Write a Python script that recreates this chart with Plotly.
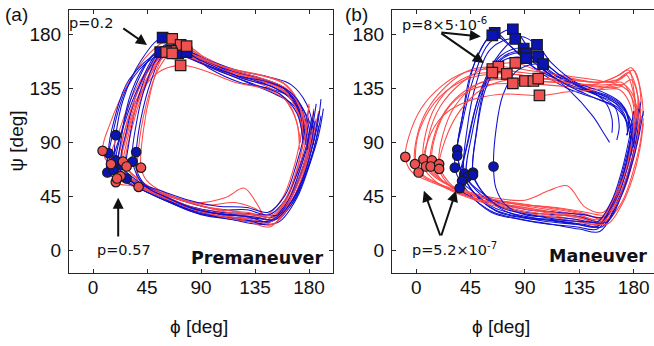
import plotly.graph_objects as go

# ---------------- data (phi, psi) waypoints in degrees ----------------
# Panel (a) Premaneuver
A_BLUE_CURVES = [
    [(186,122),(182,98),(175,70),(164,44),(150,28),(130,31),(105,32),(80,37),(55,46),(35,55),(22,68),(18,82),(19,96),(25,125),(40,158),(58,177),(75,168),(100,155),(130,145),(155,138),(170,126),(178,105),(180,85)],
    [(190,112),(186,92),(178,66),(168,42),(152,26),(135,27),(110,28),(85,33),(60,42),(35,54),(18,66),(13,81),(18,110),(30,142),(56,165),(72,163),(100,152),(128,140),(152,130),(168,120),(178,100),(181,80)],
    [(184,116),(180,92),(172,66),(162,40),(148,24),(130,28),(108,30),(82,35),(58,44),(36,55),(22,66),(19,75),(26,105),(40,140),(55,160),(71,164),(90,156),(118,146),(145,138),(163,128),(174,110),(177,88)],
    [(192,118),(188,96),(180,70),(170,44),(155,24),(138,22),(115,26),(90,30),(64,40),(38,52),(20,60),(12,65),(16,95),(28,135),(50,160),(78,165),(96,152),(122,140),(150,134),(168,126),(180,108),(184,88)],
    [(182,110),(178,88),(170,64),(160,42),(147,30),(128,34),(104,34),(80,40),(56,48),(34,58),(17,67),(24,100),(36,138),(50,163),(64,170),(88,160),(115,150),(142,142),(160,134),(172,115),(176,92)],
    [(188,104),(184,84),(176,60),(165,38),(150,22),(132,24),(110,27),(86,32),(62,42),(44,54),(36,68),(36,82),(40,110),(48,140),(58,162),(72,168),(95,158),(125,143),(150,136),(166,125),(176,106),(179,84)],
    [(180,120),(176,96),(169,70),(160,46),(146,32),(128,36),(104,37),(80,42),(56,50),(38,56),(28,60),(30,90),(38,128),(50,158),(62,172),(82,164),(108,152),(138,144),(158,136),(170,122),(176,100)],
    [(190,126),(187,104),(180,76),(170,48),(155,30),(138,30),(112,30),(88,34),(62,44),(40,56),(24,71),(28,100),(38,135),(52,162),(68,170),(92,160),(120,150),(148,144),(165,138),(178,122),(184,100)],
    [(185,108),(181,86),(173,62),(162,38),(148,25),(130,25),(108,28),(84,32),(60,42),(38,52),(22,62),(24,96),(32,132),(46,158),(60,168),(80,160),(108,148),(135,138),(156,130),(170,114),(175,92)],
    [(188,114),(184,92),(177,66),(166,42),(152,26),(134,28),(112,30),(86,34),(62,44),(42,55),(33,74),(36,105),(44,138),(55,162),(68,168),(90,158),(118,146),(146,140),(164,132),(176,116),(181,96)],
]
A_RED_CURVES = [
    [(180,112),(177,90),(170,64),(160,40),(146,24),(130,28),(108,32),(84,36),(58,46),(35,56),(15,70),(8,83),(14,105),(30,140),(48,165),(66,176),(85,165),(112,152),(140,142),(160,134),(172,118),(176,96)],
    [(184,118),(180,94),(173,68),(162,42),(148,28),(132,30),(110,34),(86,38),(60,47),(36,58),(15,72),(22,100),(36,135),(55,162),(73,171),(92,160),(118,148),(146,140),(163,130),(174,112),(178,90)],
    [(178,106),(174,84),(168,60),(158,38),(145,22),(128,26),(105,30),(82,36),(60,46),(40,58),(25,74),(30,105),(42,138),(60,163),(78,170),(96,158),(122,146),(148,138),(164,128),(172,110),(175,88)],
    [(186,110),(182,88),(175,62),(165,40),(150,26),(135,35),(118,40),(95,38),(70,44),(45,54),(28,70),(32,100),(42,132),(54,156),(65,166),(85,160),(112,150),(138,142),(158,134),(170,118),(175,96)],
    [(182,100),(178,80),(171,58),(160,36),(147,24),(136,40),(126,52),(110,44),(85,40),(60,48),(45,58),(40,69),(42,100),(48,132),(55,155),(61,165),(80,160),(108,148),(136,140),(156,130),(168,112),(173,90)],
    [(176,116),(173,94),(167,68),(158,44),(145,30),(128,32),(106,34),(80,40),(55,48),(32,54),(19,57),(24,90),(36,125),(54,148),(73,154),(92,150),(118,140),(145,134),(162,124),(170,106),(172,84)],
    [(184,104),(180,82),(173,58),(163,36),(150,22),(132,26),(110,28),(86,34),(62,44),(45,50),(38,53),(38,85),(44,120),(54,150),(66,164),(88,158),(115,148),(142,142),(160,132),(171,114),(176,92)],
    [(188,116),(184,94),(177,68),(167,44),(153,26),(136,28),(114,30),(90,34),(64,42),(40,52),(23,62),(28,95),(40,130),(56,158),(70,168),(90,160),(116,150),(144,142),(162,134),(174,116),(179,94)],
    [(180,122),(177,98),(171,72),(162,46),(150,30),(134,30),(112,32),(88,38),(62,46),(38,54),(20,60),(24,90),(34,124),(48,152),(62,166),(82,162),(110,152),(138,146),(158,140),(170,126),(175,104)],
    [(182,96),(178,76),(170,54),(160,34),(148,20),(130,24),(108,28),(84,34),(60,44),(40,54),(26,66),(30,98),(40,130),(52,156),(66,168),(86,162),(112,152),(140,146),(160,138),(172,120),(178,98)],
]
A_BLUE_CIRCLE_PHI = [19, 13, 19, 12, 17, 36, 28, 24, 22, 33]
A_BLUE_CIRCLE_PSI = [96, 81, 75, 65, 67, 82, 60, 71, 62, 74]
A_BLUE_SQUARE_PHI = [58, 56, 71, 78]
A_BLUE_SQUARE_PSI = [177, 165, 164, 165]
A_RED_CIRCLE_PHI = [8, 15, 25, 28, 40, 19, 38, 23, 20]
A_RED_CIRCLE_PSI = [83, 72, 74, 70, 69, 57, 53, 62, 60]
A_RED_SQUARE_PHI = [66, 73, 78, 65, 61, 73, 66]
A_RED_SQUARE_PSI = [176, 171, 170, 166, 165, 154, 164]

# Panel (b) Maneuver
B_BLUE_CURVES = [
    [(182,120),(178,96),(172,70),(164,44),(152,22),(135,24),(112,26),(88,28),(65,34),(48,48),(36,70),(34,84),(40,120),(50,160),(65,181),(80,168),(100,150),(125,135),(150,126),(168,118),(176,100),(178,80)],
    [(186,112),(182,90),(175,64),(166,40),(154,20),(138,22),(115,25),(90,27),(66,33),(46,50),(34,79),(38,110),(46,150),(63,179),(78,170),(98,152),(122,140),(148,130),(166,122),(178,108),(181,88)],
    [(180,104),(176,82),(170,58),(162,36),(150,18),(132,20),(110,22),(86,26),(62,32),(42,50),(32,69),(38,105),(48,145),(60,172),(80,184),(92,170),(110,150),(135,136),(158,128),(172,118),(178,100)],
    [(184,118),(180,94),(173,68),(165,44),(153,24),(136,28),(114,30),(90,32),(66,38),(50,50),(40,64),(42,100),(50,140),(62,168),(82,176),(96,160),(116,145),(140,135),(160,128),(173,118),(178,98)],
    [(178,96),(174,74),(168,52),(160,32),(149,20),(132,22),(110,24),(88,28),(68,36),(54,50),(47,65),(50,100),(57,138),(70,162),(89,168),(104,152),(124,138),(148,130),(164,120),(168,104),(166,92)],
    [(186,124),(182,100),(176,74),(168,48),(156,28),(138,30),(116,32),(92,34),(68,40),(52,50),(42,61),(46,96),(56,135),(72,160),(91,164),(106,150),(126,134),(146,112),(155,98),(160,90)],
    [(182,110),(178,88),(171,62),(162,38),(150,20),(134,22),(112,25),(88,29),(64,36),(46,50),(38,58),(44,95),(54,135),(70,165),(86,178),(100,171),(112,156),(132,140),(154,132),(170,122),(176,104),(174,96)],
    [(184,104),(180,82),(174,58),(165,36),(152,16),(135,18),(112,22),(88,26),(64,32),(46,44),(36,52),(42,88),(52,128),(68,158),(85,166),(101,161),(116,148),(138,136),(156,124),(162,110),(162,98)],
    [(180,116),(176,92),(170,66),(162,42),(150,24),(133,26),(112,28),(90,30),(74,38),(66,52),(64,70),(66,100),(72,130),(84,150),(105,155),(120,145),(140,134),(160,126),(172,114),(175,96)],
    [(188,116),(184,94),(178,70),(170,46),(158,24),(140,24),(118,26),(94,30),(70,36),(54,50),(47,63),(50,98),(58,136),(72,158),(91,160),(108,148),(128,136),(150,126),(166,118),(176,104),(180,86)],
]
B_RED_CURVES = [
    [(184,122),(182,98),(176,72),(166,46),(154,28),(135,32),(112,36),(88,38),(62,42),(38,48),(15,56),(-4,66),(-9,78),(-6,95),(4,118),(20,136),(40,148),(63,151),(88,148),(118,144),(148,140),(166,142),(176,148),(182,136),(184,118)],
    [(186,112),(183,90),(177,66),(168,42),(156,24),(138,28),(114,32),(90,36),(64,40),(40,46),(18,56),(4,64),(-1,72),(0,92),(8,115),(24,136),(44,150),(68,153),(92,150),(120,146),(148,142),(164,140),(174,146),(180,130),(182,112)],
    [(182,118),(179,94),(173,68),(163,42),(151,26),(134,30),(110,34),(86,38),(60,43),(36,50),(16,62),(6,76),(8,98),(16,120),(30,137),(46,146),(63,148),(86,146),(114,142),(142,138),(160,138),(170,140),(178,128),(181,110)],
    [(188,110),(185,88),(179,64),(170,40),(158,26),(140,30),(118,34),(94,38),(68,42),(44,48),(20,55),(2,65),(0,88),(8,112),(24,132),(46,144),(75,147),(98,144),(124,140),(150,136),(168,136),(178,142),(184,126),(186,108)],
    [(184,126),(181,102),(175,76),(166,50),(155,32),(140,36),(125,54),(110,50),(90,42),(64,44),(40,50),(20,58),(8,70),(10,94),(20,120),(38,140),(58,152),(82,156),(100,150),(126,144),(152,140),(168,146),(178,152),(184,140),(186,124)],
    [(180,104),(177,82),(171,58),(161,36),(150,22),(132,26),(108,30),(84,34),(60,40),(38,48),(20,60),(13,75),(16,96),(26,118),(42,132),(60,138),(80,139),(104,138),(130,136),(154,134),(168,134),(176,124),(180,104)],
    [(186,118),(183,96),(177,70),(168,46),(157,30),(140,32),(116,36),(92,38),(66,42),(42,48),(22,58),(12,70),(14,92),(24,116),(42,134),(64,142),(90,141),(112,140),(138,138),(160,136),(172,138),(180,128),(184,110)],
    [(182,112),(178,88),(172,62),(162,40),(151,24),(134,28),(112,32),(88,36),(64,40),(42,46),(26,58),(19,72),(22,96),(32,120),(50,138),(72,144),(97,141),(120,140),(146,138),(164,144),(176,150),(180,134),(182,116)],
    [(188,106),(185,84),(179,60),(170,38),(158,22),(140,26),(118,30),(94,34),(70,38),(46,44),(28,54),(19,68),(24,92),(36,116),(54,134),(76,142),(101,143),(124,142),(150,140),(168,142),(180,150),(186,132),(188,112)],
    [(184,100),(180,80),(174,56),(164,36),(152,22),(134,24),(112,28),(88,32),(62,38),(38,46),(18,56),(6,70),(10,92),(22,112),(42,124),(70,130),(102,129),(126,132),(150,134),(166,138),(176,132),(182,116),(184,100)],
]
B_BLUE_CIRCLE_PHI = [34, 34, 32, 40, 47, 42, 38, 36, 64, 47]
B_BLUE_CIRCLE_PSI = [84, 79, 69, 64, 65, 61, 58, 52, 70, 63]
B_BLUE_SQUARE_PHI = [65, 63, 80, 82, 89, 91, 91, 100, 101, 105]
B_BLUE_SQUARE_PSI = [181, 179, 184, 176, 168, 164, 160, 171, 161, 155]
B_RED_CIRCLE_PHI = [-9, -1, 6, 2, 8, 13, 12, 19, 19]
B_RED_CIRCLE_PSI = [78, 72, 76, 65, 70, 75, 70, 72, 68]
B_RED_SQUARE_PHI = [63, 68, 63, 75, 82, 80, 90, 97, 101, 102]
B_RED_SQUARE_PSI = [151, 153, 148, 147, 156, 139, 141, 141, 143, 129]

TICKS = [0, 45, 90, 135, 180]
TICK_LABELS = ["0", "45", "90", "135", "180"]

# ---------------- styles ----------------
BLUE_LINE = "#1010d0"
RED_LINE = "#ff4848"
BLUE_FILL = "#0a14b4"
RED_FILL = "#f05050"
AXIS_COL = "#262626"
W, H = 654, 346

fig = go.Figure()


def add_curves(curves_blue, curves_red, xa, ya):
    n = max(len(curves_blue), len(curves_red))
    for i in range(n):
        for curves, col in ((curves_red, RED_LINE), (curves_blue, BLUE_LINE)):
            if i < len(curves):
                c = curves[i]
                fig.add_trace(go.Scatter(
                    x=[p[0] for p in c], y=[p[1] for p in c], mode="lines",
                    line=dict(color=col, width=1.05, shape="spline", smoothing=1.0),
                    xaxis=xa, yaxis=ya, showlegend=False, hoverinfo="skip"))


def add_markers(phi, psi, fill, symbol, size, xa, ya):
    fig.add_trace(go.Scatter(
        x=phi, y=psi, mode="markers",
        marker=dict(symbol=symbol, size=size, color=fill,
                    line=dict(color="#1a1a1a", width=1.2)),
        xaxis=xa, yaxis=ya, showlegend=False, hoverinfo="skip"))


add_curves(A_BLUE_CURVES, A_RED_CURVES, "x", "y")
add_markers(A_BLUE_CIRCLE_PHI, A_BLUE_CIRCLE_PSI, BLUE_FILL, "circle", 9.5, "x", "y")
add_markers(A_RED_CIRCLE_PHI, A_RED_CIRCLE_PSI, RED_FILL, "circle", 9.5, "x", "y")
add_markers(A_BLUE_SQUARE_PHI, A_BLUE_SQUARE_PSI, BLUE_FILL, "square", 10.5, "x", "y")
add_markers(A_RED_SQUARE_PHI, A_RED_SQUARE_PSI, RED_FILL, "square", 10.5, "x", "y")

add_curves(B_BLUE_CURVES, B_RED_CURVES, "x2", "y2")
add_markers(B_RED_CIRCLE_PHI, B_RED_CIRCLE_PSI, RED_FILL, "circle", 9.5, "x2", "y2")
add_markers(B_BLUE_CIRCLE_PHI, B_BLUE_CIRCLE_PSI, BLUE_FILL, "circle", 9.5, "x2", "y2")
add_markers(B_RED_SQUARE_PHI, B_RED_SQUARE_PSI, RED_FILL, "square", 10.5, "x2", "y2")
add_markers(B_BLUE_SQUARE_PHI, B_BLUE_SQUARE_PSI, BLUE_FILL, "square", 10.5, "x2", "y2")

tickfont = dict(family="Liberation Sans, Arial, sans-serif", size=19, color="#111")
common_axis = dict(showgrid=False, zeroline=False, showline=True, linecolor=AXIS_COL,
                   linewidth=1, ticks="inside", ticklen=4, tickcolor=AXIS_COL,
                   tickvals=TICKS, ticktext=TICK_LABELS, tickfont=tickfont)

ydom = [1 - 273 / H, 1 - 10 / H]
fig.update_layout(
    width=W, height=H, margin=dict(l=0, r=0, t=0, b=0),
    paper_bgcolor="white", plot_bgcolor="white",
    xaxis=dict(domain=[69 / W, 333 / W], range=[-20, 200], anchor="y",
               mirror="ticks", ticklabelstandoff=-3, **common_axis),
    yaxis=dict(domain=ydom, range=[-18.5, 200], anchor="x",
               mirror="ticks", ticklabelstandoff=3, **common_axis),
    xaxis2=dict(domain=[392 / W, 1.0], range=[-20, 196.8], anchor="y2",
                mirror="ticks", ticklabelstandoff=-3, **common_axis),
    yaxis2=dict(domain=ydom, range=[-18.5, 200], anchor="x2",
                mirror=False, ticklabelstandoff=3, **common_axis),
)

lab_font = dict(family="Liberation Sans, Arial, sans-serif", size=19, color="#111")
p_font = dict(family="DejaVu Sans, sans-serif", size=14.5, color="#111")
bold_font = dict(family="DejaVu Sans, sans-serif", size=17.5, color="#111")

ann = []
# axis titles and panel letters
ann.append(dict(text="ϕ [deg]", x=198.5 / W, y=1 - 326 / H, xref="paper", yref="paper",
                showarrow=False, font=lab_font, xanchor="center", yanchor="middle"))
ann.append(dict(text="ϕ [deg]", x=500.7 / W, y=1 - 326 / H, xref="paper", yref="paper",
                showarrow=False, font=lab_font, xanchor="center", yanchor="middle"))
ann.append(dict(text="ψ [deg]", x=16 / W, y=1 - 141.5 / H, xref="paper", yref="paper",
                showarrow=False, font=lab_font, textangle=-90, xanchor="center", yanchor="middle"))
ann.append(dict(text="(a)", x=16 / W, y=1 - 14 / H, xref="paper", yref="paper",
                showarrow=False, font=lab_font, xanchor="center", yanchor="middle"))
ann.append(dict(text="(b)", x=357 / W, y=1 - 14 / H, xref="paper", yref="paper",
                showarrow=False, font=lab_font, xanchor="center", yanchor="middle"))
# panel names
ann.append(dict(text="<b>Premaneuver</b>", x=193.3, y=-6, xref="x", yref="y",
                showarrow=False, font=bold_font, xanchor="right", yanchor="middle"))
ann.append(dict(text="<b>Maneuver</b>", x=192.6, y=-4.4, xref="x2", yref="y2",
                showarrow=False, font=bold_font, xanchor="right", yanchor="middle"))
# p-value texts
ann.append(dict(text="p=0.2", x=-1.7, y=189, xref="x", yref="y", showarrow=False,
                font=p_font, xanchor="center", yanchor="middle"))
ann.append(dict(text="p=0.57", x=26, y=0.5, xref="x", yref="y", showarrow=False,
                font=p_font, xanchor="center", yanchor="middle"))
ann.append(dict(text="p=8×5·10<sup>-6</sup>", x=23.8, y=188, xref="x2", yref="y2",
                showarrow=False, font=p_font, xanchor="center", yanchor="middle"))
ann.append(dict(text="p=5.2×10<sup>-7</sup>", x=32, y=1.5, xref="x2", yref="y2",
                showarrow=False, font=p_font, xanchor="center", yanchor="middle"))

# arrows (tail -> head)
ARROWS = [
    ("x", "y", 24, 185.6, 45, 171),
    ("x", "y", 21, 10.6, 21, 44),
    ("x2", "y2", 19.6, 181.4, 53.5, 178),
    ("x2", "y2", 19.6, 181.4, 56, 156),
    ("x2", "y2", 20.4, 11.4, 6.4, 49.8),
    ("x2", "y2", 20.4, 11.4, 33, 49.8),
]
for xa, ya, tx, ty, hx, hy in ARROWS:
    ann.append(dict(text="", x=hx, y=hy, ax=tx, ay=ty, xref=xa, yref=ya,
                    axref=xa, ayref=ya, showarrow=True, arrowhead=2, arrowsize=1.1,
                    arrowwidth=2, arrowcolor="#111", standoff=0, startstandoff=0))

fig.update_layout(annotations=ann)
fig.write_html("out.html")
